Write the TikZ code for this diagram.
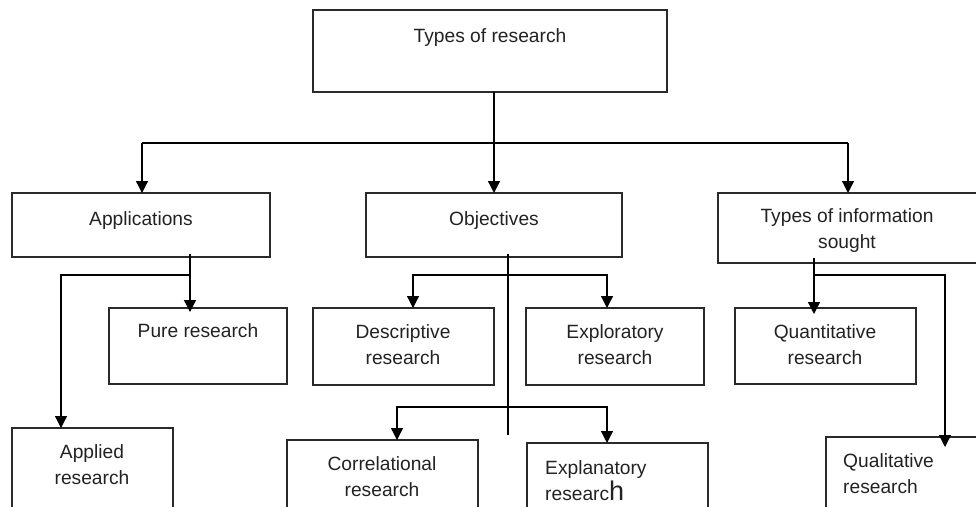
\documentclass[tikz,border=0pt]{standalone}
\usepackage{fontspec}
\setmainfont{Liberation Sans}
\usetikzlibrary{arrows.meta}
\definecolor{ink}{HTML}{222222}
\definecolor{edge}{HTML}{2A2A2A}
\begin{document}
\begin{tikzpicture}[x=1pt,y=-1pt,
  box/.style={draw=edge,line width=1.4pt,inner sep=0pt,outer sep=0pt,anchor=north west},
  txt/.style={text=ink,font=\fontsize{19.2}{26}\selectfont,inner sep=0pt,align=center,anchor=base},
  ltxt/.style={text=ink,font=\fontsize{19.2}{26}\selectfont,inner sep=0pt,align=left,anchor=base west},
  conn/.style={draw=black,line width=1.3pt},
  arr/.style={conn,-{Triangle[length=12pt,width=12pt]}}]
\useasboundingbox (0,0) rectangle (976,506);
\clip (0,0) rectangle (976,506);
% boxes
\node[box,minimum width=354pt,minimum height=82pt] (top) at (313,10) {};
\node[box,minimum width=258pt,minimum height=64pt] (app) at (12,193) {};
\node[box,minimum width=256pt,minimum height=64pt] (obj) at (366,193) {};
\node[box,minimum width=260pt,minimum height=70pt] (info) at (718,193) {};
\node[box,minimum width=178pt,minimum height=76pt] (pure) at (109,308) {};
\node[box,minimum width=161pt,minimum height=110pt] (applied) at (12,428) {};
\node[box,minimum width=181pt,minimum height=77pt] (desc) at (313,308) {};
\node[box,minimum width=178pt,minimum height=77pt] (expl) at (526,308) {};
\node[box,minimum width=181pt,minimum height=76pt] (quant) at (735,308) {};
\node[box,minimum width=191pt,minimum height=110pt] (corr) at (287,440) {};
\node[box,minimum width=181pt,minimum height=110pt] (explan) at (527,443) {};
\node[box,minimum width=170pt,minimum height=110pt] (qual) at (826,437) {};
% texts (multi-line nodes: base = last line)
\node[txt] (ttop) at (490,42) {Types of research};
\node[txt] (tapp) at (141,225.5) {Applications};
\node[txt] (tobj) at (494,225.5) {Objectives};
\node[txt] (tinfo) at (847,248.5) {Types of information\\sought};
\node[txt] (tpure) at (198,337) {Pure research};
\node[txt] (tapplied) at (92,484.5) {Applied\\research};
\node[txt] (tdesc) at (403,364) {Descriptive\\research};
\node[txt] (texpl) at (615,364) {Exploratory\\research};
\node[txt] (tquant) at (825,364) {Quantitative\\research};
\node[txt] (tcorr) at (382,496.5) {Correlational\\research};
\node[ltxt] (texplan) at (545,500) {Explanatory\\researc{\fontsize{27}{26}\selectfont h}};
\node[ltxt] (tqual) at (843,493) {Qualitative\\research};
% connector junctions
\coordinate (h0) at (494,143);
\coordinate (a1) at (190,275);
\coordinate (a2) at (61,275);
\coordinate (o1) at (508,275);
\coordinate (o2) at (413,275);
\coordinate (o3) at (607,275);
\coordinate (o4) at (508,407);
\coordinate (o5) at (397,407);
\coordinate (o6) at (607,407);
\coordinate (oend) at (508,435);
\coordinate (i1) at (814,275);
\coordinate (i2) at (945,275);
% level 1
\draw[conn] (top.south -| h0) -- (h0);
\draw[conn] (h0 -| 142,0) -- (h0 -| info.north);
\draw[arr] (h0) -- (obj.north);
\draw[arr] (h0 -| 142,0) -- (app.north -| 142,0);
\draw[arr] (h0 -| info.north) -- (info.north);
% applications
\draw[conn] ([yshift=3pt]app.south -| a1) -- (a1);
\draw[arr] (a1) -- ([yshift=-4pt]pure.north -| a1);
\draw[arr] (a1) -- (a2) -- (applied.north -| a2);
% objectives
\draw[conn] ([yshift=3pt]obj.south -| o1) -- (oend);
\draw[arr] (o1) -- (o2) -- (desc.north -| o2);
\draw[arr] (o1) -- (o3) -- (expl.north -| o3);
\draw[arr] (o4) -- (o5) -- (corr.north -| o5);
\draw[arr] (o4) -- (o6) -- (explan.north -| o6);
% information
\draw[arr] ([yshift=5pt]info.south -| i1) -- ([yshift=-6pt]quant.north -| i1);
\draw[arr] (i1) -- (i2) -- ([yshift=-10pt]qual.north -| i2);
\end{tikzpicture}
\end{document}
